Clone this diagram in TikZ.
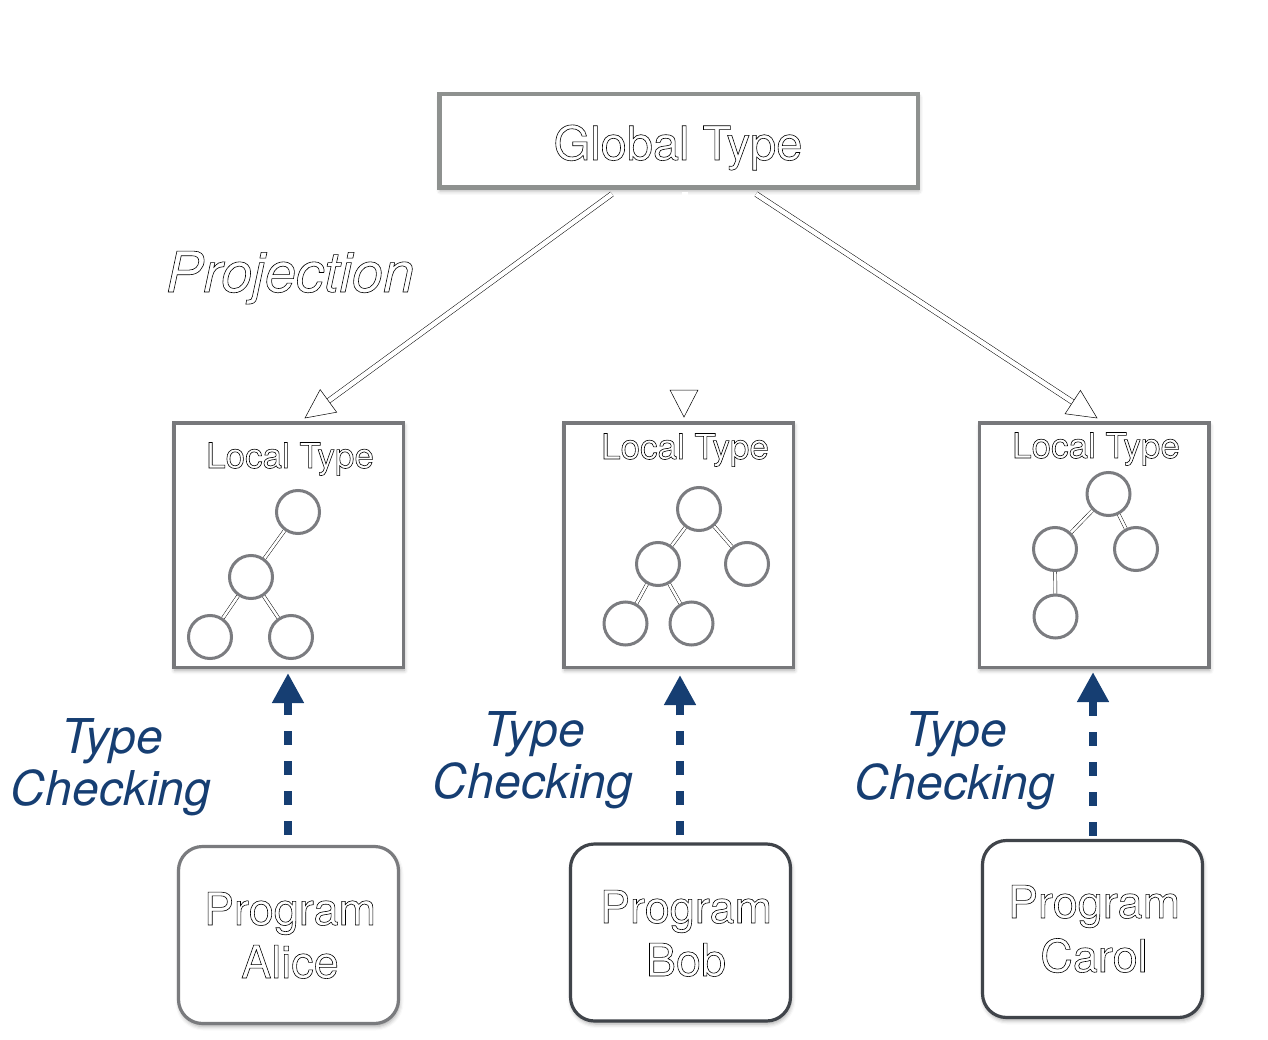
\documentclass[tikz,border=0pt]{standalone}
\usepackage{fontspec}
\setmainfont{TeX Gyre Heros}
\usetikzlibrary{calc,arrows.meta,shadows.blur}
\definecolor{gboxc}{HTML}{8E918F}
\definecolor{lboxc}{HTML}{77787B}
\definecolor{circc}{HTML}{7B7C80}
\definecolor{plight}{HTML}{7A7B7E}
\definecolor{pdark}{HTML}{40444A}
\definecolor{tcblue}{HTML}{163E72}
\newcommand\outl[1]{\special{pdf:literal direct 1 Tr 0.6 w}#1\special{pdf:literal direct 0 Tr}}
\begin{document}
\begin{tikzpicture}[x=1pt,y=-1pt,
  shd/.style={blur shadow={shadow xshift=1pt,shadow yshift=-3pt,shadow blur radius=4pt,shadow opacity=35}},
  gbox/.style={draw=gboxc,line width=4.5pt,fill=white,minimum width=478.5pt,minimum height=93.5pt,inner sep=0pt,shd},
  lbox/.style={draw=lboxc,line width=3.5pt,fill=white,minimum width=229.5pt,minimum height=244.5pt,inner sep=0pt,shd},
  pbox/.style={line width=3.2pt,fill=white,rounded corners=24pt,minimum width=220pt,minimum height=177pt,inner sep=0pt,shd},
  circ/.style={circle,draw=circc,line width=3pt,fill=white,minimum size=43pt,inner sep=0pt},
  tedge/.style={draw=black,line width=0.45pt,double=white,double distance=2.6pt},
  dbl/.style={draw=black,line width=0.5pt,double=white,double distance=4.5pt},
  headst/.style={draw=black,line width=0.5pt,fill=white,line join=miter},
  bluearr/.style={draw=tcblue,line width=8pt,dash pattern=on 14pt off 16pt,-{Triangle[length=30pt,width=30pt]}},
  gtxt/.style={font=\fontsize{47}{56}\selectfont,anchor=base,inner sep=0pt},
  projtxt/.style={font=\fontsize{56}{66}\selectfont\itshape,anchor=base,inner sep=0pt},
  ltxt/.style={font=\fontsize{35}{42}\selectfont,anchor=base,inner sep=0pt},
  tctxt/.style={font=\fontsize{48}{56}\selectfont\itshape,text=tcblue,anchor=base,inner sep=0pt},
  ptxt/.style={font=\fontsize{45}{54}\selectfont,anchor=base,inner sep=0pt}
]
\useasboundingbox (0,0) rectangle (1268,1040);

% Global box
\node[gbox] (g) at (678.5,141) {};
\node[gtxt] (gt) at (678,160) {\outl{Global Type}};

% Local boxes
\node[lbox] (la) at (288.5,545) {};
\node[lbox] (lb) at (678.5,545) {};
\node[lbox] (lc) at (1094,545) {};
\node[ltxt] (lta) at (290,468) {\outl{Local Type}};
\node[ltxt] (ltb) at (685,459) {\outl{Local Type}};
\node[ltxt] (ltc) at (1096,458) {\outl{Local Type}};

% Program boxes
\node[pbox,draw=plight] (pa) at (288.5,935) {};
\node[pbox,draw=pdark] (pb) at (680.5,932.5) {};
\node[pbox,draw=pdark] (pc) at (1092.5,929) {};
\node[ptxt] (pa1) at (290,925) {\outl{Program}};
\node[ptxt] (pa2) at (290,978) {\outl{Alice}};
\node[ptxt] (pb1) at (686,923) {\outl{Program}};
\node[ptxt] (pb2) at (686,976) {\outl{Bob}};
\node[ptxt] (pc1) at (1094,918) {\outl{Program}};
\node[ptxt] (pc2) at (1094,972) {\outl{Carol}};

% Projection label
\node[projtxt] (proj) at (290,292) {\outl{Projection}};

% Projection arrows
\coordinate (p1s) at (612,194);
\coordinate (p1t) at (305,418);
\coordinate (p2s) at (756,194);
\coordinate (p2t) at (1097,418);
\coordinate (p3t) at (684,417);
\coordinate (p3s) at (684,390);
\draw[dbl] (p1s) -- ($(p1t)!25pt!(p1s)$);
\draw[dbl] (p2s) -- ($(p2t)!25pt!(p2s)$);
\filldraw[headst] (p1t) -- ($($(p1t)!29pt!(p1s)$)!14pt!90:(p1t)$) -- ($($(p1t)!29pt!(p1s)$)!14pt!-90:(p1t)$) -- cycle;
\filldraw[headst] (p2t) -- ($($(p2t)!29pt!(p2s)$)!14pt!90:(p2t)$) -- ($($(p2t)!29pt!(p2s)$)!14pt!-90:(p2t)$) -- cycle;
\filldraw[headst] (p3t) -- ($(p3s)+(-14,0)$) -- ($(p3s)+(14,0)$) -- cycle;
\draw[white,line width=6pt] (685,192) -- (685,210);

% Trees
\node[circ] (c1a) at (298,512) {};
\node[circ] (c1b) at (251,577) {};
\node[circ] (c1c) at (210,637) {};
\node[circ] (c1d) at (291,637) {};
\draw[tedge] (c1a) -- (c1b);
\draw[tedge] (c1b) -- (c1c);
\draw[tedge] (c1b) -- (c1d);

\node[circ] (c2a) at (699,509) {};
\node[circ] (c2b) at (658,564) {};
\node[circ] (c2c) at (747,564) {};
\node[circ] (c2d) at (625.5,623.5) {};
\node[circ] (c2e) at (691.5,623.5) {};
\draw[tedge] (c2a) -- (c2b);
\draw[tedge] (c2a) -- (c2c);
\draw[tedge] (c2b) -- (c2d);
\draw[tedge] (c2b) -- (c2e);

\node[circ] (c3a) at (1108.5,494) {};
\node[circ] (c3b) at (1055,549) {};
\node[circ] (c3c) at (1136,549) {};
\node[circ] (c3d) at (1055.5,616.5) {};
\draw[tedge] (c3a) -- (c3b);
\draw[tedge] (c3a) -- (c3c);
\draw[tedge] (c3b) -- (c3d);

% Type checking arrows
\draw[bluearr,shorten <=10pt,shorten >=4pt] (pa.north -| 288,0) -- (la.south -| 288,0);
\draw[bluearr,shorten <=7pt,shorten >=6pt] (pb.north -| 680,0) -- (lb.south -| 680,0);
\draw[bluearr,shorten <=3pt,shorten >=3pt] (pc.north -| 1093,0) -- (lc.south -| 1093,0);

% Type checking labels
\node[tctxt] (tca1) at (112,753) {Type};
\node[tctxt] (tca2) at (111,805) {Checking};
\node[tctxt] (tcb1) at (534,746) {Type};
\node[tctxt] (tcb2) at (533,798) {Checking};
\node[tctxt] (tcc1) at (956,746) {Type};
\node[tctxt] (tcc2) at (955,799) {Checking};
\end{tikzpicture}
\end{document}
